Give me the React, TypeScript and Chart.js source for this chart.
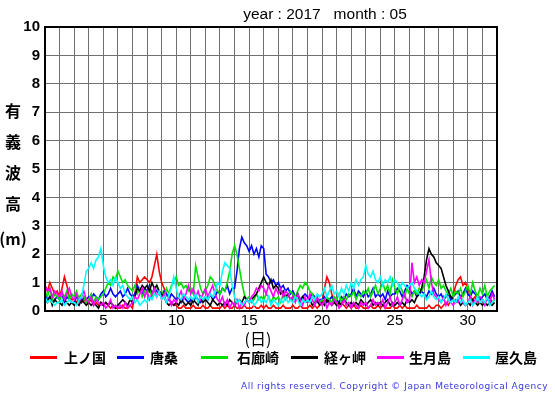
import React, { useEffect, useRef } from "react";
import { Chart, registerables } from "chart.js";

Chart.register(...registerables);

const TITLE = "year : 2017   month : 05";
const Y_TITLE = ["有", "義", "波", "高", "(m)"];
const X_TITLE = "(日)";
const COPYRIGHT = "All rights reserved. Copyright © Japan Meteorological Agency";
const STATIONS = ["上ノ国", "唐桑", "石廊崎", "経ヶ岬", "生月島", "屋久島"];
const COLORS = ["#ff0000", "#0000ff", "#00e000", "#000000", "#ff00ff", "#00ffff"];
const X_TICKS = [5, 10, 15, 20, 25, 30];
const Y_TICKS = [0, 1, 2, 3, 4, 5, 6, 7, 8, 9, 10];
const SAMPLES_PER_DAY = 6;

// wave heights (m), 6 samples per day, days 1..31
const kaminokuni = [
  0.9, 0.7, 1.0, 0.8, 0.6, 0.7,
  0.5, 0.8, 1.2, 0.9, 0.5, 0.4,
  0.4, 0.3, 0.5, 0.3, 0.4, 0.3,
  0.3, 0.4, 0.2, 0.3, 0.2, 0.3,
  0.2, 0.3, 0.2, 0.1, 0.2, 0.1,
  0.1, 0.1, 0.2, 0.1, 0.1, 0.2,
  0.1, 0.6, 1.2, 1.0, 1.1, 1.2,
  1.1, 1.0, 1.2, 1.6, 2.0, 1.4,
  1.0, 0.8, 0.6, 0.4, 0.3, 0.2,
  0.2, 0.1, 0.1, 0.2, 0.1, 0.1,
  0.1, 0.2, 0.1, 0.1, 0.1, 0.2,
  0.1, 0.1, 0.2, 0.1, 0.1, 0.1,
  0.1, 0.2, 0.1, 0.2, 0.1, 0.1,
  0.2, 0.1, 0.1, 0.1, 0.2, 0.1,
  0.1, 0.1, 0.2, 0.1, 0.1, 0.2,
  0.1, 0.2, 0.1, 0.1, 0.2, 0.1,
  0.1, 0.1, 0.2, 0.1, 0.1, 0.1,
  0.2, 0.1, 0.1, 0.2, 0.1, 0.1,
  0.1, 0.2, 0.1, 0.2, 0.1, 0.2,
  0.3, 0.8, 1.2, 1.0, 0.6, 0.4,
  0.3, 0.2, 0.3, 0.2, 0.1, 0.2,
  0.1, 0.2, 0.1, 0.1, 0.2, 0.1,
  0.1, 0.1, 0.2, 0.1, 0.1, 0.2,
  0.1, 0.2, 0.1, 0.1, 0.1, 0.2,
  0.1, 0.1, 0.2, 0.1, 0.2, 0.1,
  0.1, 0.1, 0.1, 0.2, 0.1, 0.1,
  0.1, 0.1, 0.2, 0.1, 0.1, 0.2,
  0.2, 0.1, 0.2, 0.3, 0.2, 0.4,
  0.6, 0.9, 1.1, 1.2, 0.9, 1.0,
  0.8, 0.5, 0.4, 0.5, 0.3, 0.4,
  0.4, 0.3, 0.4, 0.5, 0.3, 0.4,
];

const karakuwa = [
  0.6, 0.4, 0.5, 0.3, 0.4, 0.5,
  0.4, 0.6, 0.3, 0.5, 0.4, 0.3,
  0.3, 0.5, 0.4, 0.3, 0.5, 0.4,
  0.5, 0.4, 0.6, 0.5, 0.4, 0.6,
  0.7, 0.5, 0.6, 0.8, 0.6, 0.5,
  0.6, 0.7, 0.5, 0.6, 0.8, 0.6,
  0.5, 0.6, 0.9, 0.7, 0.6, 0.8,
  0.7, 0.9, 0.6, 0.8, 0.7, 0.6,
  0.5, 0.7, 0.6, 0.4, 0.6, 0.5,
  0.4, 0.5, 0.3, 0.5, 0.4, 0.3,
  0.4, 0.3, 0.5, 0.4, 0.3, 0.4,
  0.5, 0.4, 0.6, 0.4, 0.5, 0.7,
  0.6, 0.8, 0.7, 0.9, 0.6, 0.8,
  0.8, 1.4, 2.2, 2.6, 2.4, 2.3,
  2.1, 2.3, 2.0, 2.2, 1.9, 2.3,
  2.2, 1.3, 1.2, 1.0, 1.1, 0.9,
  1.0, 0.8, 0.9, 0.7, 0.8, 0.6,
  0.7, 0.5, 0.6, 0.4, 0.5, 0.6,
  0.5, 0.4, 0.6, 0.5, 0.3, 0.4,
  0.4, 0.5, 0.3, 0.4, 0.5, 0.3,
  0.4, 0.3, 0.5, 0.4, 0.6, 0.5,
  0.6, 0.8, 0.5, 0.7, 0.6, 0.5,
  0.7, 0.5, 0.6, 0.8, 0.5, 0.6,
  0.5, 0.6, 0.4, 0.7, 0.5, 0.6,
  0.6, 0.8, 0.7, 0.5, 0.7, 0.9,
  0.8, 0.6, 0.7, 0.5, 0.6, 0.7,
  0.6, 0.5, 0.7, 0.6, 0.8, 0.6,
  0.5, 0.6, 0.4, 0.5, 0.6, 0.4,
  0.5, 0.6, 0.7, 0.5, 0.6, 0.8,
  0.6, 0.5, 0.7, 0.6, 0.5, 0.4,
  0.5, 0.6, 0.4, 0.5, 0.7, 0.5,
];

const irozaki = [
  0.7, 0.5, 0.8, 0.4, 0.6, 0.5,
  0.4, 0.6, 0.5, 0.7, 0.4, 0.6,
  0.5, 0.7, 0.4, 0.6, 0.5, 0.3,
  0.4, 0.6, 0.3, 0.5, 0.4, 0.5,
  0.6, 0.8, 1.0, 0.9, 1.2, 1.1,
  1.4, 1.2, 1.0, 1.1, 0.9, 0.8,
  0.7, 0.9, 0.6, 0.8, 0.5, 0.7,
  0.6, 0.8, 0.5, 0.7, 0.9, 0.6,
  0.7, 0.5, 0.8, 0.6, 0.9, 1.0,
  1.2, 0.9, 1.0, 0.8, 0.9, 0.7,
  0.8, 0.6, 1.6, 1.2, 0.8, 0.6,
  0.7, 0.9, 1.2, 1.1, 0.9, 0.7,
  0.6, 0.8, 0.7, 1.0, 1.4, 2.0,
  2.3, 2.0, 1.5, 1.0, 0.6, 0.4,
  0.5, 0.3, 0.4, 0.6, 0.4, 0.5,
  0.4, 0.6, 0.5, 0.3, 0.5, 0.4,
  0.5, 0.3, 0.6, 0.4, 0.5, 0.7,
  0.6, 0.5, 0.7, 0.9, 0.8, 1.0,
  0.9, 0.7, 0.6, 0.4, 0.5, 0.3,
  0.4, 0.3, 0.5, 0.4, 0.3, 0.5,
  0.4, 0.6, 0.3, 0.5, 0.4, 0.6,
  0.5, 0.7, 0.4, 0.6, 0.5, 0.7,
  0.6, 0.8, 0.5, 0.7, 0.9, 0.6,
  0.8, 1.0, 0.7, 0.9, 0.6, 1.1,
  0.8, 0.6, 0.9, 0.7, 0.5, 0.8,
  0.6, 0.5, 0.7, 0.6, 0.8, 0.7,
  0.9, 1.1, 0.8, 1.2, 1.0, 0.9,
  1.1, 0.8, 0.9, 0.7, 0.6, 0.8,
  0.5, 0.7, 0.6, 0.8, 0.5, 0.7,
  0.9, 0.6, 1.0, 0.7, 0.5, 0.8,
  0.6, 0.9, 0.5, 0.7, 0.8, 0.9,
];

const kyogamisaki = [
  0.4, 0.3, 0.5, 0.2, 0.4, 0.3,
  0.3, 0.2, 0.4, 0.3, 0.2, 0.3,
  0.2, 0.3, 0.2, 0.4, 0.3, 0.2,
  0.3, 0.2, 0.3, 0.2, 0.1, 0.3,
  0.2, 0.3, 0.2, 0.3, 0.2, 0.1,
  0.2, 0.3, 0.4, 0.3, 0.2, 0.4,
  0.3, 0.5, 0.8, 0.7, 0.9, 0.8,
  0.9, 0.7, 1.0, 0.8, 0.9, 0.7,
  0.6, 0.5, 0.3, 0.2, 0.3, 0.2,
  0.3, 0.2, 0.4, 0.3, 0.2, 0.3,
  0.2, 0.4, 0.3, 0.2, 0.5, 0.3,
  0.4, 0.3, 0.2, 0.4, 0.3, 0.2,
  0.3, 0.2, 0.3, 0.2, 0.4, 0.3,
  0.2, 0.3, 0.4, 0.3, 0.5, 0.4,
  0.3, 0.4, 0.5, 0.6, 0.8, 1.0,
  1.2, 1.0, 0.9, 1.1, 0.8, 0.9,
  0.8, 0.6, 0.7, 0.5, 0.6, 0.4,
  0.5, 0.4, 0.6, 0.3, 0.5, 0.4,
  0.3, 0.4, 0.2, 0.3, 0.4, 0.2,
  0.3, 0.2, 0.4, 0.3, 0.2, 0.3,
  0.2, 0.3, 0.2, 0.4, 0.3, 0.2,
  0.3, 0.2, 0.3, 0.2, 0.4, 0.3,
  0.2, 0.3, 0.4, 0.2, 0.3, 0.2,
  0.3, 0.2, 0.3, 0.4, 0.2, 0.3,
  0.2, 0.3, 0.2, 0.3, 0.2, 0.4,
  0.3, 0.4, 0.3, 0.5, 0.6, 0.8,
  1.2, 1.8, 2.2, 2.0, 1.9, 1.7,
  1.6, 1.5, 1.2, 0.9, 0.7, 0.5,
  0.4, 0.3, 0.4, 0.2, 0.3, 0.2,
  0.3, 0.2, 0.4, 0.3, 0.2, 0.3,
  0.2, 0.3, 0.2, 0.3, 0.2, 0.3,
];

const ikitsukishima = [
  0.9, 0.7, 0.8, 0.5, 0.7, 0.6,
  0.5, 0.7, 0.4, 0.6, 0.8, 0.5,
  0.4, 0.6, 0.3, 0.5, 0.7, 0.4,
  0.3, 0.5, 0.2, 0.4, 0.3, 0.2,
  0.3, 0.1, 0.2, 0.4, 0.1, 0.2,
  0.1, 0.2, 0.1, 0.3, 0.1, 0.2,
  0.3, 0.5, 0.4, 0.6, 0.8, 0.5,
  0.7, 0.4, 0.6, 0.8, 0.5, 0.7,
  0.4, 0.6, 0.3, 0.5, 0.2, 0.4,
  0.3, 0.5, 0.7, 0.4, 0.6, 0.9,
  0.6, 0.8, 0.5, 0.7, 0.4, 0.6,
  0.8, 0.5, 0.7, 0.9, 0.6, 0.4,
  0.3, 0.5, 0.2, 0.4, 0.1, 0.3,
  0.2, 0.4, 0.1, 0.3, 0.2, 0.4,
  0.3, 0.5, 0.6, 0.8, 0.7, 0.9,
  0.8, 0.6, 0.9, 0.7, 0.5, 0.8,
  0.6, 0.8, 0.5, 0.7, 0.6, 0.4,
  0.5, 0.3, 0.6, 0.4, 0.2, 0.5,
  0.3, 0.6, 0.4, 0.2, 0.5, 0.3,
  0.2, 0.4, 0.1, 0.3, 0.2, 0.4,
  0.3, 0.1, 0.2, 0.4, 0.2, 0.3,
  0.1, 0.3, 0.2, 0.1, 0.3, 0.2,
  0.3, 0.1, 0.2, 0.4, 0.2, 0.3,
  0.2, 0.4, 0.1, 0.3, 0.5, 0.2,
  0.3, 0.5, 0.2, 0.4, 0.6, 0.3,
  0.4, 1.7, 1.0, 1.2, 0.9, 1.1,
  1.0, 1.4, 1.8, 1.0, 0.6, 0.5,
  0.4, 0.3, 0.5, 0.2, 0.4, 0.3,
  0.2, 0.4, 0.3, 0.5, 0.3, 0.2,
  0.3, 0.5, 0.2, 0.4, 0.3, 0.5,
  0.4, 0.2, 0.5, 0.3, 0.6, 0.4,
];

const yakushima = [
  0.5, 0.3, 0.4, 0.3, 0.2, 0.3,
  0.3, 0.4, 0.2, 0.3, 0.4, 0.3,
  0.3, 0.2, 0.4, 0.5, 0.9, 1.4,
  1.5, 1.7, 1.5, 1.8, 1.9, 2.2,
  1.6, 1.2, 1.0, 1.1, 0.9, 1.2,
  1.0, 0.8, 0.9, 0.6, 0.5, 0.4,
  0.5, 0.3, 0.4, 0.2, 0.3, 0.4,
  0.3, 0.5, 0.4, 0.6, 0.5, 0.7,
  0.4, 0.5, 0.3, 0.6, 0.8, 1.2,
  0.8, 0.5, 0.4, 0.6, 0.5, 0.4,
  0.5, 0.4, 0.6, 0.3, 0.5, 0.4,
  0.5, 0.4, 0.6, 0.5, 0.7, 1.0,
  0.9, 1.4, 1.7, 1.6, 1.5, 0.9,
  0.5, 0.3, 0.4, 0.2, 0.3, 0.4,
  0.3, 0.4, 0.2, 0.3, 0.5, 0.3,
  0.4, 0.3, 0.5, 0.2, 0.4, 0.3,
  0.2, 0.4, 0.3, 0.5, 0.3, 0.4,
  0.3, 0.5, 0.4, 0.2, 0.4, 0.3,
  0.4, 0.3, 0.5, 0.4, 0.6, 0.5,
  0.6, 0.8, 0.5, 0.7, 0.9, 0.6,
  0.7, 0.5, 0.8, 0.6, 0.9, 0.7,
  1.0, 0.8, 1.1, 0.9, 1.1, 1.2,
  1.6, 1.3, 1.2, 1.4, 1.1, 1.0,
  1.2, 0.9, 1.1, 1.0, 1.2, 0.9,
  1.1, 1.0, 0.8, 1.0, 0.9, 0.8,
  0.9, 1.0, 0.8, 0.7, 0.6, 0.5,
  0.6, 0.4, 0.5, 0.7, 0.5, 0.4,
  0.5, 0.3, 0.4, 0.6, 0.4, 0.3,
  0.4, 0.3, 0.5, 0.3, 0.4, 0.2,
  0.3, 0.4, 0.2, 0.3, 0.5, 0.3,
  0.4, 0.3, 0.5, 0.2, 0.3, 0.4,
];

const SERIES = [kaminokuni, karakuwa, irozaki, kyogamisaki, ikitsukishima, yakushima];

const framePlugin = {
  id: "frame",
  afterDraw(chart: any) {
    const { ctx, chartArea } = chart;
    ctx.save();
    ctx.strokeStyle = "#000";
    ctx.lineWidth = 2;
    ctx.strokeRect(chartArea.left, chartArea.top, chartArea.right - chartArea.left, chartArea.bottom - chartArea.top);
    ctx.restore();
  },
};

export default function App() {
  const ref = useRef<HTMLCanvasElement | null>(null);

  useEffect(() => {
    if (!ref.current) return;
    const datasets = SERIES.map((values, si) => ({
      label: STATIONS[si],
      data: values.map((v, i) => ({ x: 1 + i / SAMPLES_PER_DAY, y: v })),
      borderColor: COLORS[si],
      backgroundColor: COLORS[si],
      borderWidth: 1.6,
      pointRadius: 0,
      tension: 0,
      order: SERIES.length - si,
    }));
    const chart = new Chart(ref.current, {
      type: "line",
      data: { datasets },
      options: {
        animation: false,
        responsive: false,
        events: [],
        layout: { padding: { left: 0, top: 27, right: 58, bottom: 64 } },
        plugins: { legend: { display: false }, tooltip: { enabled: false }, title: { display: false } },
        scales: {
          x: {
            type: "linear",
            min: 1,
            max: 32,
            afterFit: (s: any) => { s.height = 20; },
            afterBuildTicks: (s: any) => {
              const t = [];
              for (let d = 1; d <= 32; d++) t.push({ value: d });
              s.ticks = t;
            },
            ticks: {
              autoSkip: false,
              maxRotation: 0,
              padding: 1,
              color: "#000",
              font: { family: "'Liberation Sans', Arial, sans-serif", size: 15 },
              callback: (v: any) => (X_TICKS.includes(Number(v)) ? String(v) : ""),
            },
            grid: { color: "#707070", lineWidth: 1, drawTicks: false },
            border: { display: false },
          },
          y: {
            type: "linear",
            min: 0,
            max: 10,
            afterFit: (s: any) => { s.width = 45; },
            afterBuildTicks: (s: any) => { s.ticks = Y_TICKS.map((v) => ({ value: v })); },
            ticks: {
              padding: 5,
              color: "#000",
              font: { family: "'Liberation Sans', Arial, sans-serif", size: 15, weight: "bold" },
            },
            grid: { color: "#707070", lineWidth: 1, drawTicks: false },
            border: { display: false },
          },
        },
      },
      plugins: [framePlugin],
    });
    return () => chart.destroy();
  }, []);

  const cjk = "'Noto Sans CJK JP', 'Noto Sans', sans-serif";
  const legendPos = [
    { line: 30, text: 64 },
    { line: 117, text: 150 },
    { line: 201, text: 237 },
    { line: 291, text: 324 },
    { line: 377, text: 409 },
    { line: 463, text: 495 },
  ];
  const yTitleY = [110, 141, 172, 203, 238];

  return (
    <div style={{ position: "absolute", left: 0, top: 0, width: 555, height: 395, background: "#fff", overflow: "hidden" }}>
      <canvas ref={ref} width={555} height={395} style={{ position: "absolute", left: 0, top: 0 }} />
      <div style={{ position: "absolute", left: 325, top: 5, transform: "translateX(-50%)", whiteSpace: "pre", fontFamily: "'Liberation Sans', Arial, sans-serif", fontSize: 15.5, lineHeight: "18px", color: "#000" }}>
        {TITLE}
      </div>
      {Y_TITLE.map((c, i) => (
        <div key={i} style={{ position: "absolute", left: 13, top: yTitleY[i] - 11, transform: "translateX(-50%)", whiteSpace: "pre", fontFamily: cjk, fontWeight: 700, fontSize: 16, lineHeight: "22px", color: "#000" }}>
          {c}
        </div>
      ))}
      <div style={{ position: "absolute", left: 258, top: 327, transform: "translateX(-50%)", whiteSpace: "pre", fontFamily: cjk, fontSize: 16, lineHeight: "22px", color: "#000" }}>
        {X_TITLE}
      </div>
      {STATIONS.map((s, i) => (
        <React.Fragment key={s}>
          <div style={{ position: "absolute", left: legendPos[i].line, top: 356, width: 27, height: 3, background: COLORS[i] }} />
          <div style={{ position: "absolute", left: legendPos[i].text, top: 347, whiteSpace: "pre", fontFamily: cjk, fontWeight: 700, fontSize: 14, lineHeight: "20px", color: "#000" }}>
            {s}
          </div>
        </React.Fragment>
      ))}
      <div style={{ position: "absolute", right: 7, top: 380, whiteSpace: "pre", fontFamily: "'DejaVu Sans', sans-serif", fontSize: 9, letterSpacing: 0.5, lineHeight: "12px", color: "#3b3bd9" }}>
        {COPYRIGHT}
      </div>
    </div>
  );
}
